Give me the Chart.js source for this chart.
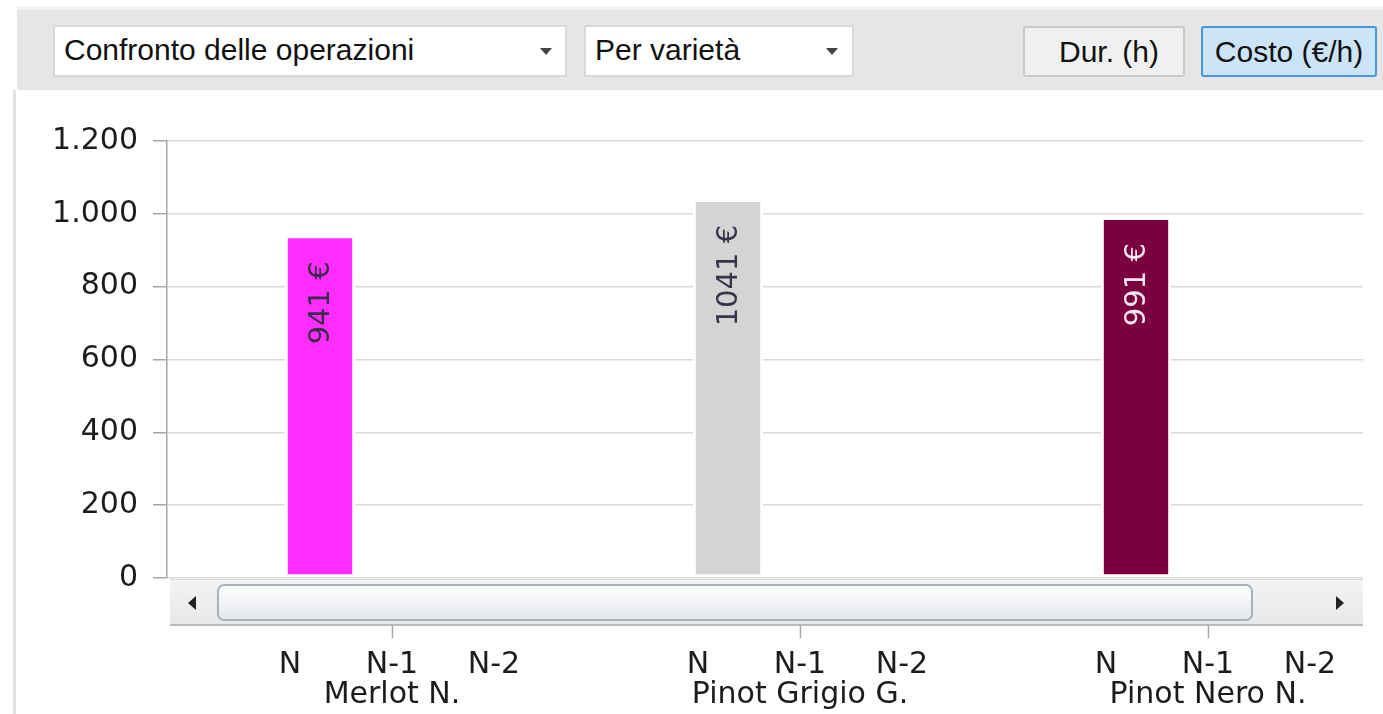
<!DOCTYPE html>
<html>
<head>
<meta charset="utf-8">
<script src="https://cdn.jsdelivr.net/npm/chart.js@4.4.1/dist/chart.umd.min.js"></script>
<style>
  html, body { margin: 0; padding: 0; background: #fff; }
  body { width: 1383px; height: 714px; position: relative; overflow: hidden; font-family: "Liberation Sans", Arial, sans-serif; }
  .toolbar { position: absolute; left: 17px; top: 6px; width: 1366px; height: 84px; background: #e6e6e6; border-top: 4px solid #f2f2f2; box-sizing: border-box; }
  .leftline { position: absolute; left: 13px; top: 90px; width: 3px; height: 624px; background: #e2e2e2; }
  .combo { position: absolute; top: 25px; height: 52px; background: #fff; border: 2px solid #d9d9d9; box-sizing: border-box; font-size: 30px; color: #111; line-height: 46px; padding-left: 9px; }
  .combo .arrow { position: absolute; top: 21px; width: 0; height: 0; border-left: 6px solid transparent; border-right: 6px solid transparent; border-top: 7px solid #444; }
  .btn { position: absolute; top: 26px; height: 51px; box-sizing: border-box; border-radius: 3px; font-size: 30px; color: #111; line-height: 47px; text-align: center; }
  .btn.off { left: 1023px; width: 162px; background: #f0f0f0; border: 2px solid #cacaca; padding-left: 10px; }
  .btn.on { left: 1201px; width: 176px; background: #cce4f7; border: 2px solid #4896dc; }
  #wrap { position: absolute; left: 17px; top: 91px; width: 1346px; height: 623px; overflow: hidden; }
  .scroll { position: absolute; left: 170px; top: 579px; width: 1193px; height: 47px; background: linear-gradient(#f3f3f3, #e6e8ea); border-top: 1px solid #dcdcdc; border-bottom: 2px solid #b9bcbf; box-sizing: border-box; }
  .scroll .thumb { position: absolute; left: 47px; top: 4px; width: 1036px; height: 37px; border: 2px solid #a9b1b9; border-radius: 7px; background: linear-gradient(#ffffff, #f1f3f5 55%, #e4e8ec); box-sizing: border-box; }
  .scroll .la { position: absolute; left: 18px; top: 16px; width: 0; height: 0; border-top: 7px solid transparent; border-bottom: 7px solid transparent; border-right: 8px solid #222; }
  .scroll .ra { position: absolute; left: 1166px; top: 16px; width: 0; height: 0; border-top: 7px solid transparent; border-bottom: 7px solid transparent; border-left: 8px solid #222; }
</style>
</head>
<body>
<div class="toolbar"></div>
<div class="leftline"></div>
<div class="combo" style="left:53px;width:514px;">Confronto delle operazioni<div class="arrow" style="left:485px;"></div></div>
<div class="combo" style="left:584px;width:270px;">Per varietà<div class="arrow" style="left:240px;"></div></div>
<div class="btn off">Dur. (h)</div>
<div class="btn on">Costo (€/h)</div>

<div id="wrap"><canvas id="chart" width="1374" height="623"></canvas></div>

<div class="scroll"><div class="la"></div><div class="thumb"></div><div class="ra"></div></div>

<script>
// categories
const varieties = ["Merlot N.", "Pinot Grigio G.", "Pinot Nero N."];
const periods = ["N", "N-1", "N-2"];

// cost per variety, one array per period (N-1 / N-2 empty)
const costN = [941, 1041, 991];
const costN1 = [null, null, null];
const costN2 = [null, null, null];

const varietyColors = ["#ff2dff", "#d4d4d4", "#7b003e"];
const valueTextColors = ["#3b2b4b", "#35354a", "#f4e8f4"];

// y axis
const yMin = 0;
const yMax = 1200;
const yStep = 200;

const LABEL_SHIFT = -30;
const FONT = "'DejaVu Sans', Verdana, sans-serif";

// slots: spacer + N, N-1, N-2 for each variety
const labels = [];
const values = [];
const colors = [];
const textColors = [];
const groupTickIdx = [];
const byPeriod = [costN, costN1, costN2];
varieties.forEach((v, g) => {
  labels.push("");
  values.push(null);
  colors.push("transparent");
  textColors.push("transparent");
  periods.forEach((p, k) => {
    if (k === 1) groupTickIdx.push(labels.length);
    labels.push([p, k === 1 ? v : ""]);
    values.push(byPeriod[k][g]);
    colors.push(varietyColors[g]);
    textColors.push(valueTextColors[g]);
  });
});

const fmtIt = (n) => String(n).replace(/\B(?=(\d{3})+(?!\d))/g, ".");

const valueLabels = {
  id: "valueLabels",
  afterDatasetsDraw(chart) {
    const ctx = chart.ctx;
    const meta = chart.getDatasetMeta(0);
    meta.data.forEach((bar, i) => {
      const v = values[i];
      if (v == null) return;
      ctx.save();
      ctx.translate(bar.x, bar.y + 26);
      ctx.rotate(-Math.PI / 2);
      ctx.font = "29px " + FONT;
      ctx.fillStyle = textColors[i];
      ctx.textAlign = "right";
      ctx.textBaseline = "middle";
      ctx.fillText(v + " €", 0, 1);
      ctx.restore();
    });
  },
};

const groupTicks = {
  id: "groupTicks",
  afterDraw(chart) {
    const ctx = chart.ctx;
    const xs = chart.scales.x;
    const bottom = chart.chartArea.bottom;
    ctx.save();
    ctx.strokeStyle = "#a8a8a8";
    ctx.lineWidth = 1.5;
    groupTickIdx.forEach((idx) => {
      const x = Math.round(xs.getPixelForTick(idx) + LABEL_SHIFT) + 0.5;
      ctx.beginPath();
      ctx.moveTo(x, bottom + 48);
      ctx.lineTo(x, bottom + 60);
      ctx.stroke();
    });
    ctx.restore();
  },
};

new Chart(document.getElementById("chart").getContext("2d"), {
  type: "bar",
  data: {
    labels: labels,
    datasets: [
      {
        label: "Costo",
        data: values,
        backgroundColor: colors,
        borderColor: "#ffffff",
        borderWidth: 3,
        borderSkipped: false,
        categoryPercentage: 1,
        barPercentage: 0.69,
      },
    ],
  },
  options: {
    responsive: false,
    animation: false,
    devicePixelRatio: 1,
    layout: { padding: { top: 50, right: 0, bottom: 4, left: 0 } },
    plugins: {
      legend: { display: false },
      tooltip: { enabled: false },
    },
    scales: {
      x: {
        afterFit(scale) {
          scale.height = 132;
          scale.paddingLeft = 0;
          scale.paddingRight = 0;
        },
        grid: { display: false, drawTicks: false },
        border: { display: false },
        ticks: {
          autoSkip: false,
          maxRotation: 0,
          padding: 73,
          labelOffset: LABEL_SHIFT,
          color: "#1c1c1c",
          font: { family: FONT, size: 30, lineHeight: 0.98 },
        },
      },
      y: {
        min: yMin,
        max: yMax,
        afterFit(scale) {
          scale.width = 150;
        },
        grid: {
          color: "#dadada",
          lineWidth: 1.5,
          tickLength: 14,
          tickColor: "#a6a6a6",
        },
        border: { display: true, color: "#a6a6a6", width: 1.5 },
        ticks: {
          stepSize: yStep,
          padding: 15,
          color: "#1c1c1c",
          font: { family: FONT, size: 30 },
          callback: (v) => fmtIt(v),
        },
      },
    },
  },
  plugins: [valueLabels, groupTicks],
});
</script>
</body>
</html>
